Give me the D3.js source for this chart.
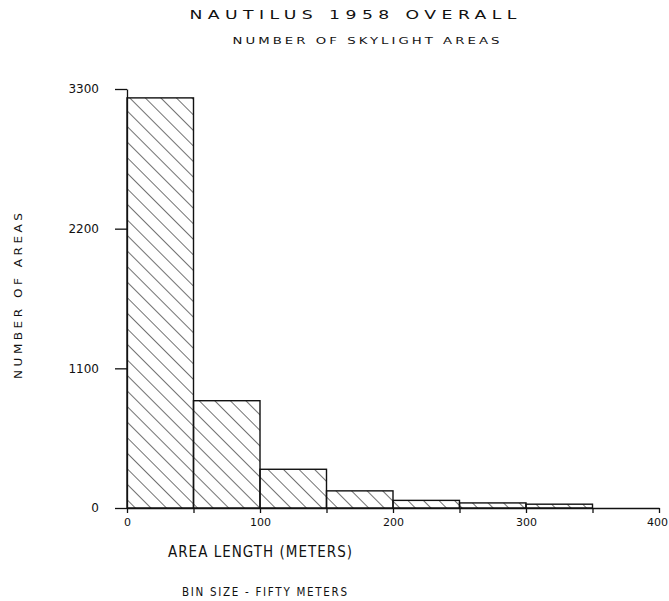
<!DOCTYPE html>
<head>
<meta charset="utf-8">
<title>Nautilus 1958 overall</title>
<style>
  body { margin: 0; background: #fff; }
  svg { display: block; }
  .title { font: 11px "DejaVu Sans", sans-serif; fill: #111; }
  .axis text { font: 12px "DejaVu Sans", sans-serif; fill: #111; }
  .axis path, .axis line { stroke: #111; stroke-width: 1.3px; }
  .lbl { font: 14px "DejaVu Sans", sans-serif; fill: #111; }
  .bar { fill: url(#hatch); stroke: #111; stroke-width: 1.4px; }
</style>
</head>
<body>
<script src="https://d3js.org/d3.v7.min.js"></script>
<script>

// bins (meters, left edge) and counts
var binStart = [0, 50, 100, 150, 200, 250, 300];
var binWidth = 50;
var counts = [3230, 845, 305, 135, 60, 40, 30];
var yTicks = [0, 1100, 2200, 3300];
var xTicks = [0, 50, 100, 150, 200, 250, 300, 350, 400];
var xLabels = [0, 100, 200, 300, 400];

var width = 669, height = 601;
var x0 = 127, x1 = 659, yTop = 89, yBot = 508;

var x = d3.scaleLinear().domain([0, 400]).range([x0, x1]);
var y = d3.scaleLinear().domain([0, 3300]).range([yBot, yTop]);

var svg = d3.select("body").append("svg")
    .attr("width", width)
    .attr("height", height);

// hatching ( \\\ )
svg.append("defs").append("pattern")
    .attr("id", "hatch")
    .attr("patternUnits", "userSpaceOnUse")
    .attr("width", 11).attr("height", 11)
    .attr("patternTransform", "rotate(-45)")
  .append("line")
    .attr("x1", 0).attr("y1", 0).attr("x2", 0).attr("y2", 11)
    .attr("stroke", "#111").attr("stroke-width", 1.2);

// wide plotter-style lettering: stretch horizontally
function wideText(cx, cy, size, sx, w, str, rot) {
  var t = svg.append("text").attr("class", "title")
      .style("font-size", size + "px")
      .attr("text-anchor", "middle")
      .attr("transform", "translate(" + cx + "," + cy + ")" + (rot ? " rotate(-90)" : "") + " scale(" + sx + ",1)")
      .attr("textLength", w / sx).attr("lengthAdjust", "spacing")
      .text(str);
  return t;
}

wideText(353, 19, 11.5, 1.5, 327, "NAUTILUS  1958  OVERALL");
wideText(366, 44, 9.5, 1.4, 267, "NUMBER  OF  SKYLIGHT  AREAS");
wideText(22, 296, 11, 1.1, 166, "NUMBER  OF  AREAS", true);

var data = binStart.map(function(d, i) { return {x: d, n: counts[i]}; });

svg.append("g").selectAll("rect")
    .data(data)
  .enter().append("rect")
    .attr("class", "bar")
    .attr("x", function(d) { return x(d.x); })
    .attr("y", function(d) { return y(d.n); })
    .attr("width", function(d) { return x(d.x + binWidth) - x(d.x); })
    .attr("height", function(d) { return y(0) - y(d.n); });

var xAxis = svg.append("g").attr("class", "axis")
    .attr("transform", "translate(0," + yBot + ")")
    .call(d3.axisBottom(x)
        .tickValues(xTicks)
        .tickSize(5)
        .tickSizeOuter(0)
        .tickFormat(function(d) { return xLabels.indexOf(d) > -1 ? d : ""; }));
xAxis.selectAll("text")
    .attr("y", 10)
    .style("font-size", "11px")
    .attr("dx", function(d) { return d === 400 ? -2 : 0; });

var yAxis = svg.append("g").attr("class", "axis")
    .attr("transform", "translate(" + x0 + ",0)")
    .call(d3.axisLeft(y)
        .tickValues(yTicks)
        .tickSize(12)
        .tickSizeOuter(0)
        .tickFormat(d3.format("d")));
yAxis.selectAll("text").attr("x", -28);

svg.append("text").attr("class", "lbl")
    .attr("transform", "translate(168,557) scale(0.9,1)")
    .attr("textLength", 184 / 0.9).attr("lengthAdjust", "spacing")
    .style("font-size", "15px")
    .text("AREA LENGTH (METERS)");

svg.append("text").attr("class", "lbl")
    .attr("transform", "translate(182,596) scale(0.9,1)")
    .attr("textLength", 165 / 0.9).attr("lengthAdjust", "spacing")
    .style("font-size", "11.5px")
    .text("BIN SIZE  -  FIFTY METERS");

</script>
</body>
